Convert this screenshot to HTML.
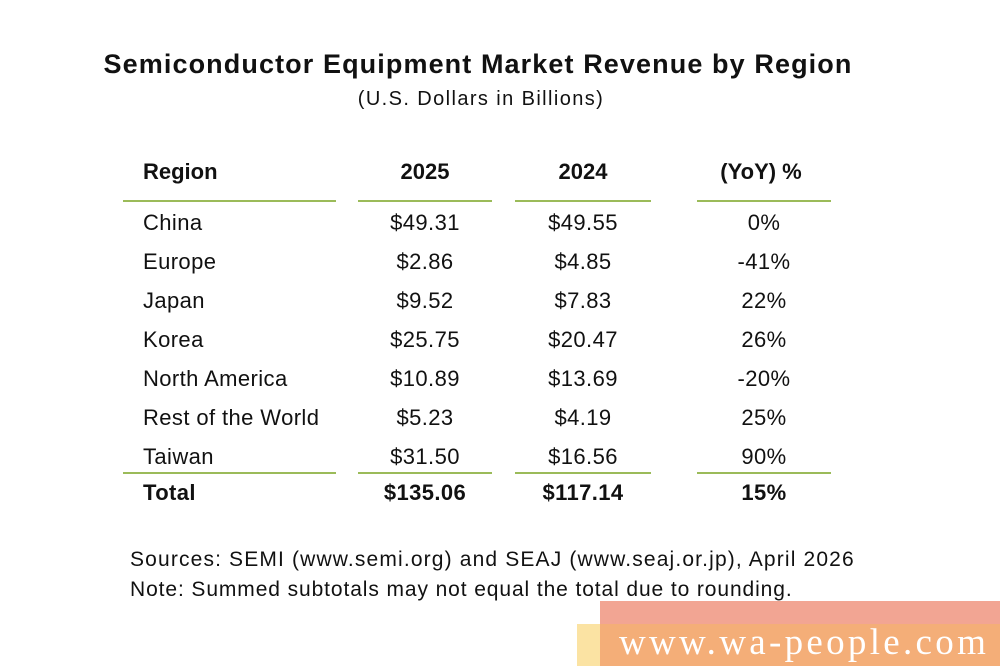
<!DOCTYPE html>
<html><head><style>
body{margin:0;width:1000px;height:666px;background:#fff;position:relative;overflow:hidden;font-family:"Liberation Sans",Arial,sans-serif;color:#111}
.t{position:absolute;white-space:nowrap;line-height:1}
.c{transform:translateX(-50%)}
.ln{position:absolute;height:2px;background:#9bbb59}
.r{letter-spacing:0.4px}
</style></head><body>
<div class="t c" style="left:478px;top:51px;font-size:27px;font-weight:bold;letter-spacing:1.1px">Semiconductor Equipment Market Revenue by Region</div>
<div class="t c" style="left:481px;top:89px;font-size:20px;letter-spacing:1.4px">(U.S. Dollars in Billions)</div>

<div class="t" style="left:143px;top:161px;font-size:22px;font-weight:bold">Region</div>
<div class="t c" style="left:425px;top:161px;font-size:22px;font-weight:bold">2025</div>
<div class="t c" style="left:583px;top:161px;font-size:22px;font-weight:bold">2024</div>
<div class="t c" style="left:761px;top:161px;font-size:22px;font-weight:bold">(YoY) %</div>

<div class="ln" style="left:123px;top:200px;width:213px"></div>
<div class="ln" style="left:358px;top:200px;width:134px"></div>
<div class="ln" style="left:515px;top:200px;width:136px"></div>
<div class="ln" style="left:697px;top:200px;width:134px"></div>

<div class="r" style="position:absolute;left:0;top:212px;font-size:22px">
<div class="t" style="left:143px;top:0">China</div><div class="t c" style="left:425px;top:0">$49.31</div><div class="t c" style="left:583px;top:0">$49.55</div><div class="t c" style="left:764px;top:0">0%</div>
<div class="t" style="left:143px;top:39px">Europe</div><div class="t c" style="left:425px;top:39px">$2.86</div><div class="t c" style="left:583px;top:39px">$4.85</div><div class="t c" style="left:764px;top:39px">-41%</div>
<div class="t" style="left:143px;top:78px">Japan</div><div class="t c" style="left:425px;top:78px">$9.52</div><div class="t c" style="left:583px;top:78px">$7.83</div><div class="t c" style="left:764px;top:78px">22%</div>
<div class="t" style="left:143px;top:117px">Korea</div><div class="t c" style="left:425px;top:117px">$25.75</div><div class="t c" style="left:583px;top:117px">$20.47</div><div class="t c" style="left:764px;top:117px">26%</div>
<div class="t" style="left:143px;top:156px">North America</div><div class="t c" style="left:425px;top:156px">$10.89</div><div class="t c" style="left:583px;top:156px">$13.69</div><div class="t c" style="left:764px;top:156px">-20%</div>
<div class="t" style="left:143px;top:195px">Rest of the World</div><div class="t c" style="left:425px;top:195px">$5.23</div><div class="t c" style="left:583px;top:195px">$4.19</div><div class="t c" style="left:764px;top:195px">25%</div>
<div class="t" style="left:143px;top:234px">Taiwan</div><div class="t c" style="left:425px;top:234px">$31.50</div><div class="t c" style="left:583px;top:234px">$16.56</div><div class="t c" style="left:764px;top:234px">90%</div>
</div>

<div class="ln" style="left:123px;top:472px;width:213px"></div>
<div class="ln" style="left:358px;top:472px;width:134px"></div>
<div class="ln" style="left:515px;top:472px;width:136px"></div>
<div class="ln" style="left:697px;top:472px;width:134px"></div>

<div class="r" style="position:absolute;left:0;top:482px;font-size:22px;font-weight:bold">
<div class="t" style="left:143px;top:0">Total</div><div class="t c" style="left:425px;top:0">$135.06</div><div class="t c" style="left:583px;top:0">$117.14</div><div class="t c" style="left:764px;top:0">15%</div>
</div>

<div class="t" style="left:130px;top:549px;font-size:21px;letter-spacing:1.15px">Sources: SEMI (www.semi.org) and SEAJ (www.seaj.or.jp), April 2026</div>
<div class="t" style="left:130px;top:579px;font-size:21px;letter-spacing:0.9px">Note: Summed subtotals may not equal the total due to rounding.</div>

<div style="position:absolute;left:600px;top:601px;width:400px;height:23px;background:#f2a593"></div>
<div style="position:absolute;left:577px;top:624px;width:23px;height:42px;background:#fbe3a3"></div>
<div style="position:absolute;left:600px;top:624px;width:400px;height:42px;background:#f4ae78"></div>
<div class="t" style="left:619px;top:624px;font-size:37px;color:#fff;font-family:'Liberation Serif',serif;letter-spacing:3.3px">www.wa-people.com</div>
</body></html>
